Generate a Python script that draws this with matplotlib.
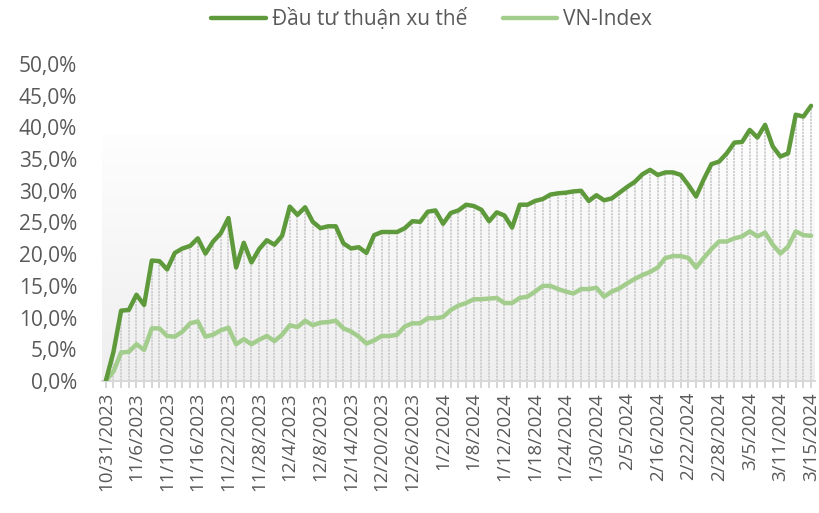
import numpy as np
import pandas as pd
import matplotlib
matplotlib.use("Agg")
import matplotlib.pyplot as plt
from matplotlib.ticker import FuncFormatter
from matplotlib.colors import LinearSegmentedColormap

# Trading days (Vietnam holidays removed)
holidays = ["2024-01-01", "2024-02-08", "2024-02-09", "2024-02-12", "2024-02-13", "2024-02-14"]
dates = pd.bdate_range("2023-10-31", "2024-03-15", freq="C", holidays=holidays)
categories = [f"{d.month}/{d.day}/{d.year}" for d in dates]

trend = [0.0, 4.6, 11.1, 11.2, 13.6, 12.0, 19.0, 18.9, 17.6, 20.2,
         20.9, 21.3, 22.5, 20.1, 22.0, 23.3, 25.7, 17.9, 21.8, 18.7,
         20.8, 22.2, 21.5, 22.9, 27.5, 26.2, 27.4, 25.1, 24.1, 24.4,
         24.4, 21.7, 20.9, 21.1, 20.2, 23.0, 23.5, 23.5, 23.5, 24.1,
         25.2, 25.1, 26.7, 26.9, 24.8, 26.5, 26.9, 27.8, 27.6, 27.0,
         25.2, 26.6, 26.1, 24.2, 27.8, 27.8, 28.4, 28.7, 29.4, 29.6,
         29.7, 29.9, 30.0, 28.4, 29.3, 28.5, 28.8, 29.7, 30.6, 31.4,
         32.6, 33.3, 32.5, 32.9, 32.9, 32.5, 30.9, 29.1, 31.8, 34.2,
         34.6, 35.9, 37.6, 37.7, 39.6, 38.4, 40.4, 37.0, 35.4, 35.9,
         42.0, 41.7, 43.4]

vnindex = [0.0, 1.5, 4.5, 4.6, 5.8, 4.9, 8.3, 8.3, 7.1, 7.0,
           7.8, 9.1, 9.4, 7.0, 7.3, 8.0, 8.4, 5.8, 6.6, 5.8,
           6.5, 7.1, 6.3, 7.3, 8.8, 8.5, 9.5, 8.8, 9.2, 9.3,
           9.5, 8.3, 7.8, 7.0, 5.9, 6.4, 7.1, 7.1, 7.3, 8.6,
           9.1, 9.1, 9.9, 9.9, 10.1, 11.2, 11.9, 12.3, 12.9, 12.9,
           13.0, 13.1, 12.3, 12.3, 13.1, 13.3, 14.1, 15.0, 15.0, 14.5,
           14.1, 13.8, 14.5, 14.5, 14.7, 13.3, 14.1, 14.6, 15.4, 16.1,
           16.7, 17.2, 17.9, 19.4, 19.7, 19.7, 19.4, 17.9, 19.4, 20.8,
           22.0, 22.0, 22.5, 22.8, 23.6, 22.8, 23.4, 21.5, 20.1, 21.2,
           23.6, 23.0, 22.9]

series_names = ["Đầu tư thuận xu thế", "VN-Index"]
label_step = 4
y_max = 50
backdrop_top = 38.8

plt.rcParams['font.family'] = ['Open Sans', 'DejaVu Sans']
text_color = "#595959"

fig = plt.figure(figsize=(8.19, 5.13), dpi=100)
ax = fig.add_axes([0.1245, 0.2573, 0.8705, 0.618])

x = np.arange(len(categories))
n = len(categories)

# gradient backdrop (white at top, light grey at bottom)
grad = np.linspace(0, 1, 256).reshape(-1, 1)
cmap = LinearSegmentedColormap.from_list("g", ["#fefefe", "#eeeeee"])
ax.imshow(grad, cmap=cmap, aspect="auto", extent=[-0.5, n - 0.5, 0, backdrop_top],
          origin="upper", zorder=0)

# drop lines
ax.vlines(x, 0, trend, colors="#cccccc", linewidth=1.3, linestyles=(0, (1.2, 0.6)), zorder=1)

ax.plot(x, vnindex, color="#a2cd8c", linewidth=3.2, solid_joinstyle="round",
        solid_capstyle="round", label=series_names[1], zorder=3)
ax.plot(x, trend, color="#5e9a3b", linewidth=3.2, solid_joinstyle="round",
        solid_capstyle="round", label=series_names[0], zorder=4)

ax.set_xlim(-0.5, n - 0.5)
ax.set_ylim(0, y_max)
ax.set_yticks(np.arange(0, y_max + 0.1, 5))
ax.yaxis.set_major_formatter(FuncFormatter(lambda v, p: f"{v:.1f}%".replace(".", ",")))
ax.set_xticks(x)
ax.set_xticklabels([c if i % label_step == 0 else "" for i, c in enumerate(categories)],
                   rotation=90, ha="center", va="top")

for s in ["top", "right", "left"]:
    ax.spines[s].set_visible(False)
ax.spines["bottom"].set_color("#d9d9d9")
ax.spines["bottom"].set_linewidth(1.5)
ax.spines["bottom"].set_zorder(2)

ax.tick_params(axis="y", length=0, pad=18, labelsize=15, labelcolor=text_color)
ax.tick_params(axis="x", length=5, width=1.2, color="#d0d0d0", pad=3,
               labelsize=13.5, labelcolor=text_color)

handles, labels = ax.get_legend_handles_labels()
leg = fig.legend(handles[::-1], labels[::-1], loc="center", bbox_to_anchor=(0.527, 0.963),
                 ncol=2, frameon=False, fontsize=15, handlelength=2.6,
                 columnspacing=1.7, handletextpad=0.3, labelcolor=text_color)

fig.savefig("out.png", dpi=100)
